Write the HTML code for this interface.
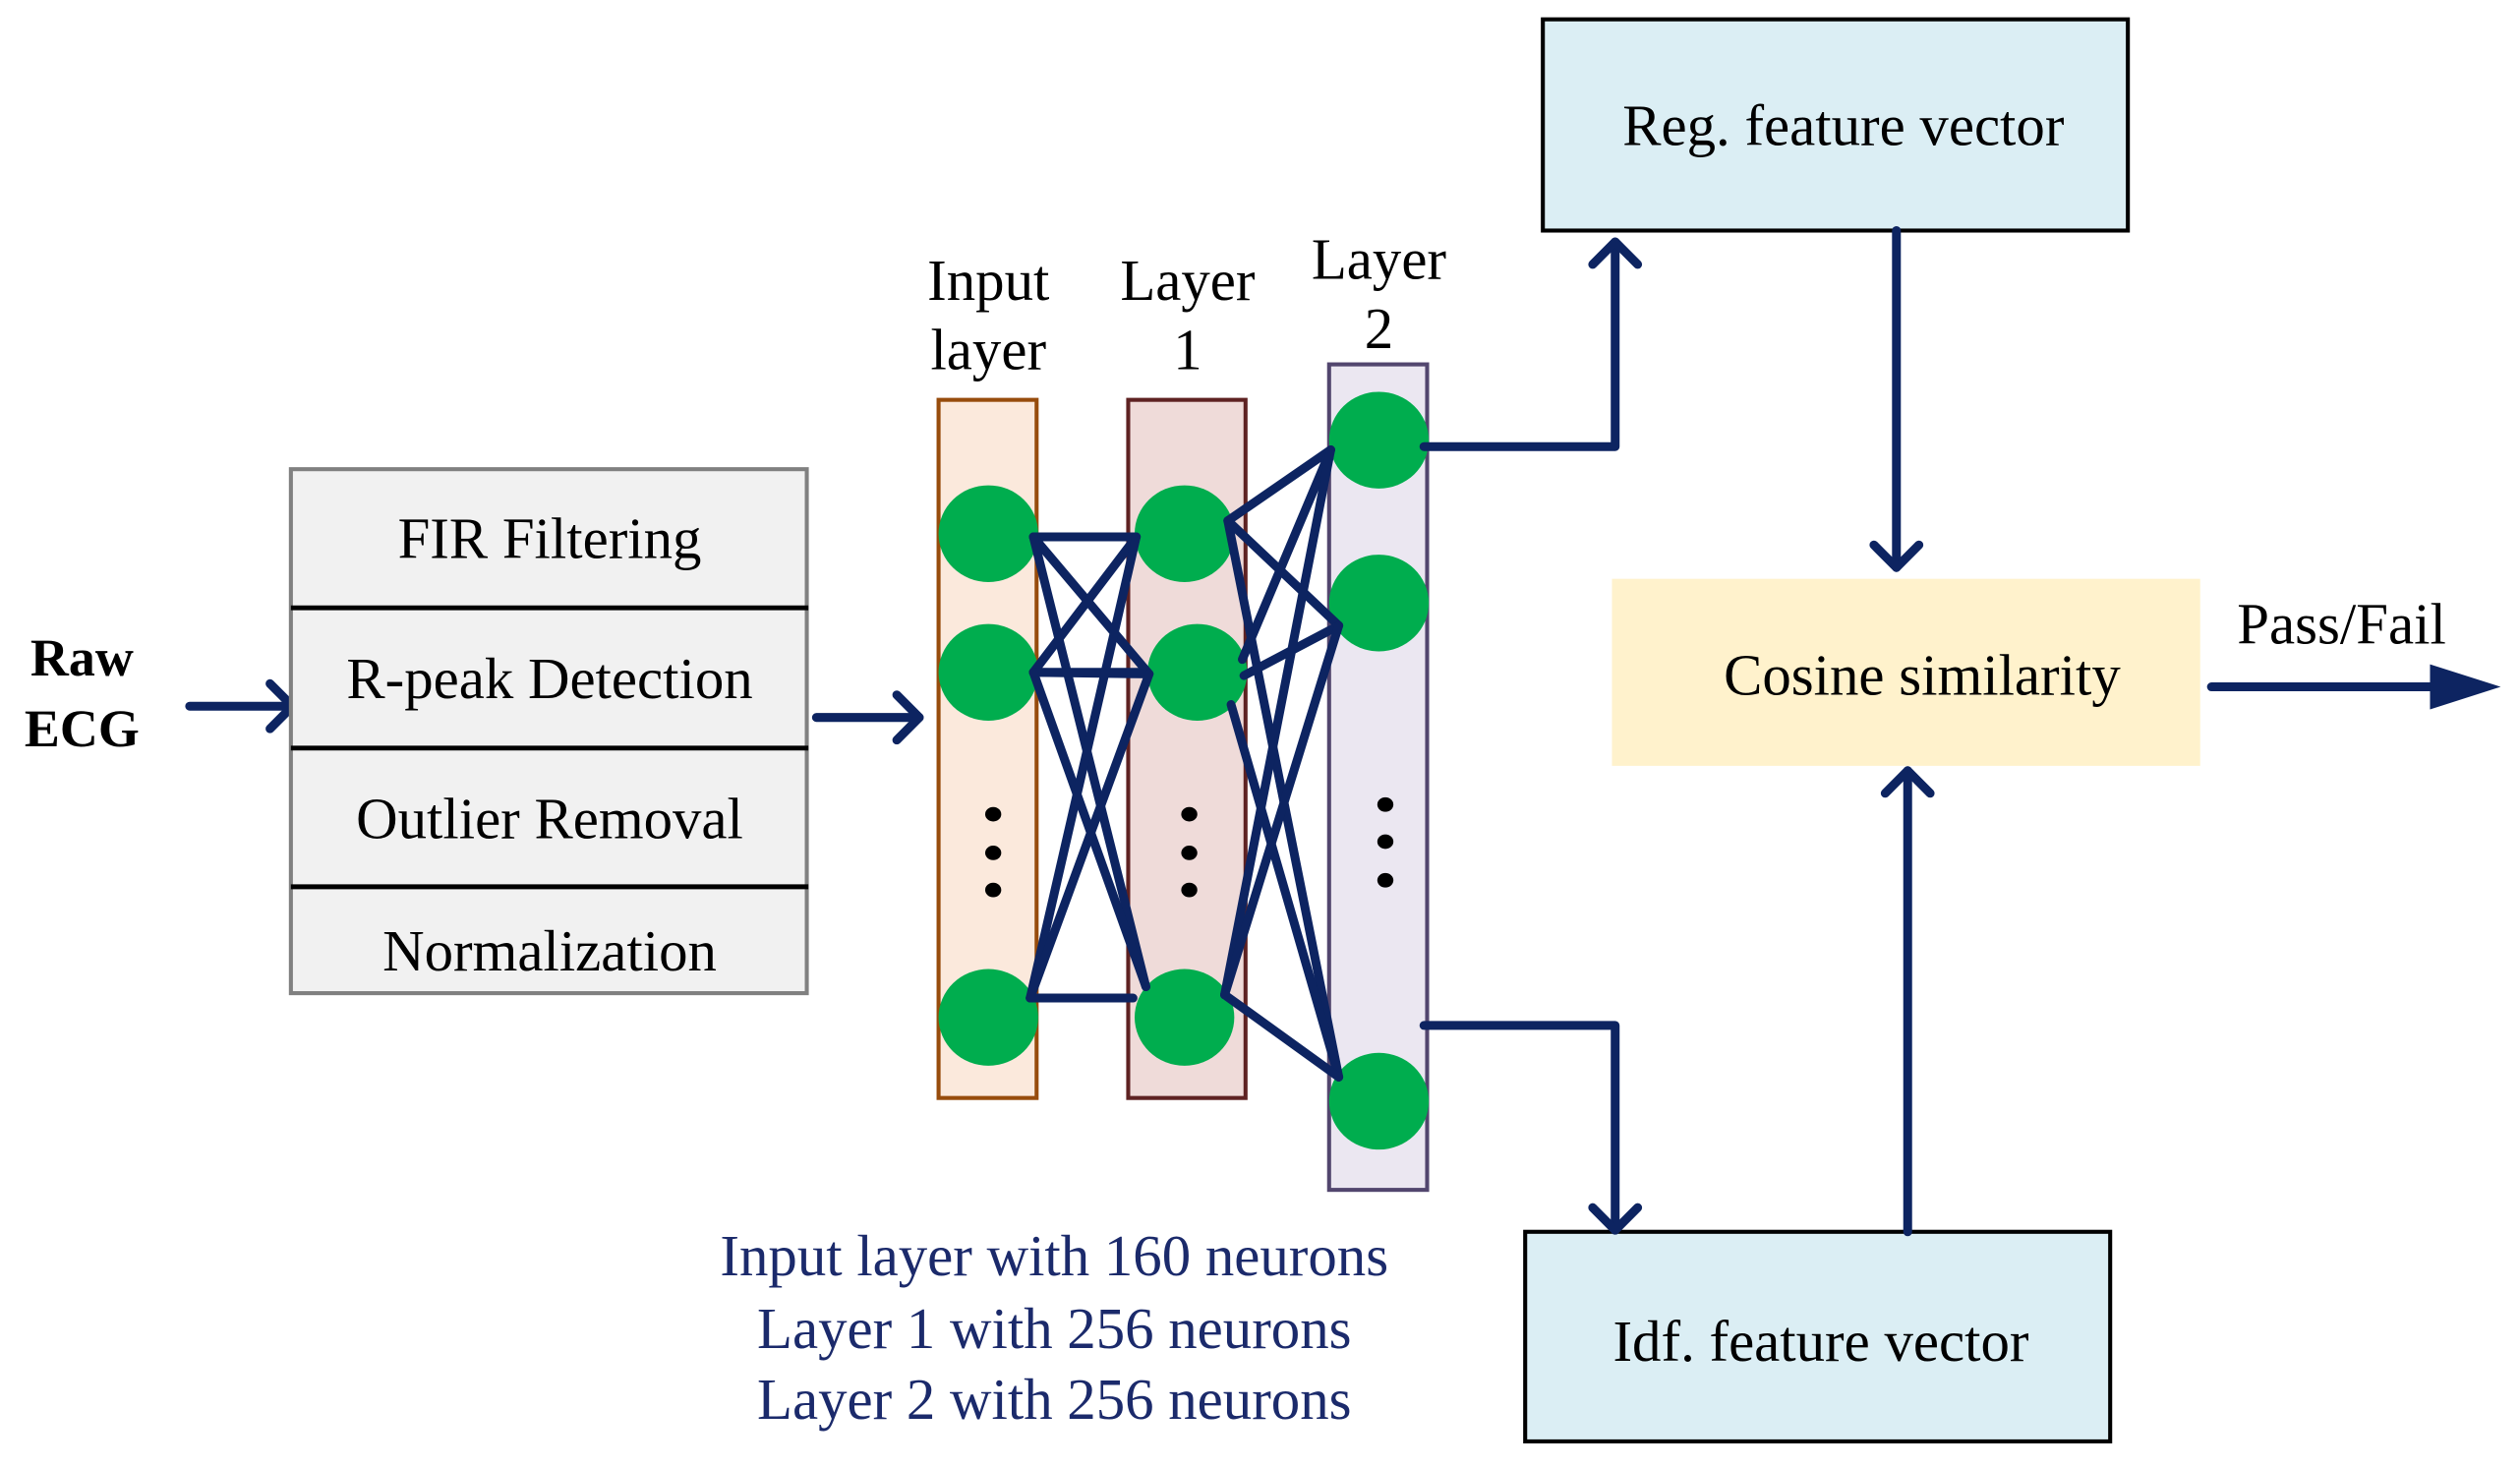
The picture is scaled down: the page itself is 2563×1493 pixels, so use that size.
<!DOCTYPE html>
<html><head><meta charset="utf-8"><style>
html,body{margin:0;padding:0;background:#fff;}
svg{display:block;}
text{font-family:"Liberation Serif",serif;}
</style></head><body>
<svg width="2563" height="1493" viewBox="0 0 1568 910.5" preserveAspectRatio="none" xmlns="http://www.w3.org/2000/svg">
<text x="51" y="419" font-size="33" font-weight="bold" text-anchor="middle">Raw</text>
<text x="51" y="463" font-size="33" font-weight="bold" text-anchor="middle">ECG</text>
<g stroke="#0d2461" stroke-width="5.5" fill="none" stroke-linecap="round" stroke-linejoin="round">
<line x1="118" y1="438" x2="182" y2="438"/><polyline points="168,424 182,438 168,452"/>
<line x1="508" y1="445" x2="572" y2="445"/><polyline points="558,431 572,445 558,459"/>
</g>
<rect x="181" y="291" width="321" height="325" fill="#f1f1f1" stroke="#808080" stroke-width="2.5"/>
<g stroke="#000" stroke-width="3"><line x1="181" y1="377" x2="503" y2="377"/><line x1="181" y1="464" x2="503" y2="464"/><line x1="181" y1="550" x2="503" y2="550"/></g>
<g font-size="36" text-anchor="middle">
<text x="342" y="346">FIR Filtering</text>
<text x="342" y="433">R-peak Detection</text>
<text x="342" y="520">Outlier Removal</text>
<text x="342" y="602">Normalization</text>
</g>
<g font-size="36" text-anchor="middle">
<text x="615" y="186">Input</text><text x="615" y="229">layer</text>
<text x="739" y="186">Layer</text><text x="739" y="229">1</text>
<text x="858" y="173">Layer</text><text x="858" y="216">2</text>
</g>
<rect x="584" y="248" width="61" height="433" fill="#fbe9dc" stroke="#974c0c" stroke-width="2.5"/>
<rect x="702" y="248" width="73" height="433" fill="#efdbd9" stroke="#5e2222" stroke-width="2.5"/>
<rect x="827" y="226" width="61" height="512" fill="#ebe7f1" stroke="#52466e" stroke-width="2.5"/>
<g fill="#00ad4e">
<ellipse cx="615" cy="331" rx="31" ry="30"/><ellipse cx="615" cy="417" rx="31" ry="30"/><ellipse cx="615" cy="631" rx="31" ry="30"/>
<ellipse cx="737" cy="331" rx="31" ry="30"/><ellipse cx="745" cy="417" rx="31" ry="30"/><ellipse cx="737" cy="631" rx="31" ry="30"/>
<ellipse cx="858" cy="273" rx="31" ry="30"/><ellipse cx="858" cy="374" rx="31" ry="30"/><ellipse cx="858" cy="683" rx="31" ry="30"/>
</g>
<g fill="#000">
<ellipse cx="618" cy="505" rx="5" ry="4.5"/><ellipse cx="618" cy="529" rx="5" ry="4.5"/><ellipse cx="618" cy="552" rx="5" ry="4.5"/>
<ellipse cx="740" cy="505" rx="5" ry="4.5"/><ellipse cx="740" cy="529" rx="5" ry="4.5"/><ellipse cx="740" cy="552" rx="5" ry="4.5"/>
<ellipse cx="862" cy="499" rx="5" ry="4.5"/><ellipse cx="862" cy="522" rx="5" ry="4.5"/><ellipse cx="862" cy="546" rx="5" ry="4.5"/>
</g>
<g stroke="#0d2461" stroke-width="5.5" fill="none" stroke-linecap="round">
<line x1="643" y1="333" x2="707" y2="333"/><line x1="643" y1="333" x2="715" y2="418"/><line x1="643" y1="333" x2="713" y2="612"/>
<line x1="643" y1="417" x2="707" y2="333"/><line x1="643" y1="417" x2="708" y2="417"/><line x1="643" y1="417" x2="713" y2="612"/><line x1="643" y1="417" x2="715" y2="418"/>
<line x1="641" y1="619" x2="707" y2="333"/><line x1="641" y1="619" x2="715" y2="418"/><line x1="641" y1="619" x2="705" y2="619"/>
<line x1="764" y1="323" x2="828" y2="279"/><line x1="764" y1="323" x2="833" y2="388"/><line x1="764" y1="323" x2="833" y2="668"/>
<line x1="773" y1="409" x2="828" y2="279"/><line x1="774" y1="419" x2="833" y2="388"/><line x1="766" y1="437" x2="833" y2="668"/>
<line x1="762" y1="617" x2="828" y2="279"/><line x1="762" y1="617" x2="833" y2="388"/><line x1="762" y1="617" x2="833" y2="668"/>
</g>
<rect x="960" y="12" width="364" height="131" fill="#dbeef4" stroke="#000" stroke-width="2.5"/>
<text x="1147" y="90" font-size="36" text-anchor="middle">Reg. feature vector</text>
<rect x="949" y="764" width="364" height="130" fill="#dbeef4" stroke="#000" stroke-width="2.5"/>
<text x="1133" y="844" font-size="36" text-anchor="middle">Idf. feature vector</text>
<rect x="1003" y="359" width="366" height="116" fill="#fff2cc"/>
<text x="1196" y="431" font-size="36" text-anchor="middle">Cosine similarity</text>
<text x="1457" y="399" font-size="36" text-anchor="middle">Pass/Fail</text>
<g stroke="#0d2461" stroke-width="5.5" fill="none" stroke-linecap="round" stroke-linejoin="round">
<polyline points="886,277 1005,277 1005,150"/><polyline points="991,164 1005,150 1019,164"/>
<polyline points="886,636 1005,636 1005,763"/><polyline points="991,749 1005,763 1019,749"/>
<line x1="1180" y1="143" x2="1180" y2="352"/><polyline points="1166,338 1180,352 1194,338"/>
<line x1="1187" y1="764" x2="1187" y2="478"/><polyline points="1173,492 1187,478 1201,492"/>
<line x1="1376" y1="426" x2="1520" y2="426"/>
</g>
<polygon points="1512,412 1556,426 1512,440" fill="#0d2461"/>
<g font-size="36" text-anchor="middle" fill="#1b2a6b">
<text x="656" y="791">Input layer with 160 neurons</text>
<text x="656" y="836">Layer 1 with 256 neurons</text>
<text x="656" y="880">Layer 2 with 256 neurons</text>
</g>
</svg>
</body></html>
